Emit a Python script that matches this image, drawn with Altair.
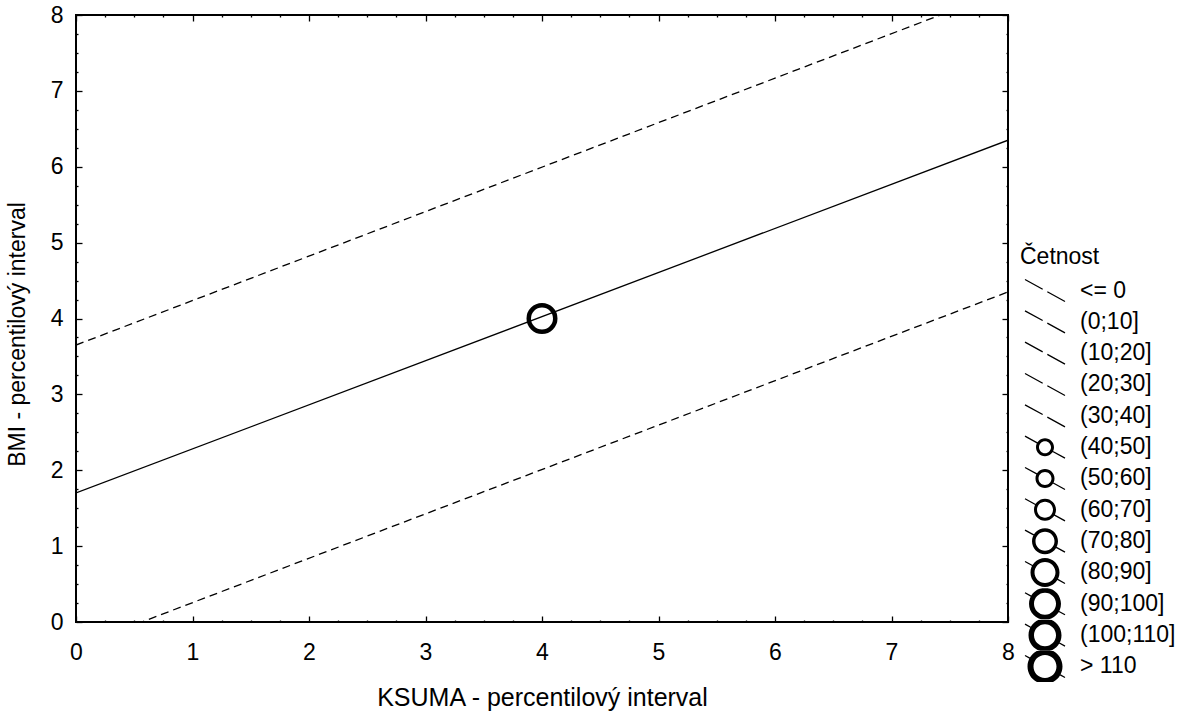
import altair as alt
import pandas as pd

FONT = "Liberation Sans"

# ---- data ----
categories = ["<= 0", "(0;10]", "(10;20]", "(20;30]", "(30;40]", "(40;50]",
              "(50;60]", "(60;70]", "(70;80]", "(80;90]", "(90;100]",
              "(100;110]", "> 110"]

fit_x = [0, 8]
fit_y = [1.70, 6.35]
upper_y = [3.65, 8.34]
lower_y = [-0.33, 4.35]

point_x = [4]
point_y = [4]
point_cat = ["(90;100]"]

major_ticks = [0, 1, 2, 3, 4, 5, 6, 7, 8]

# legend symbol style: ring outer diameter / ring thickness in px (0 = no ring)
ring_outer = [0, 0, 0, 0, 0, 18, 19, 22, 26, 29, 32, 33, 35]
ring_width = [0, 0, 0, 0, 0, 3, 3, 3, 3.5, 4, 5, 5.5, 6]

# ---- symbol paths (style only) ----
U = 12.0  # px per path unit (symbolSize 576 -> 24px box)
LX, LY = 1.667, 0.917
LL = (LX ** 2 + LY ** 2) ** 0.5
ux, uy = LX / LL, LY / LL
H = 0.65 / U          # half line thickness in units
nx, ny = -uy * H, ux * H


def f(v):
    return f"{v:.3f}"


def seg(t0, t1):
    ax, ay = ux * t0, uy * t0
    bx, by = ux * t1, uy * t1
    return (f"M{f(ax+nx)},{f(ay+ny)}L{f(bx+nx)},{f(by+ny)}"
            f"L{f(bx-nx)},{f(by-ny)}L{f(ax-nx)},{f(ay-ny)}Z")


def symbol_path(outer_d, w):
    if outer_d == 0:
        g = 0.22
        return seg(-LL, -g) + seg(g, LL)
    R = outer_d / 2 / U
    r = (outer_d / 2 - w) / U
    p = seg(-LL, -R + 0.05) + seg(R - 0.05, LL)
    p += (f"M{f(R)},0A{f(R)},{f(R)} 0 1 0 {f(-R)},0A{f(R)},{f(R)} 0 1 0 {f(R)},0Z"
          f"M{f(r)},0A{f(r)},{f(r)} 0 1 1 {f(-r)},0A{f(r)},{f(r)} 0 1 1 {f(r)},0Z")
    return p


paths = [symbol_path(d, w) for d, w in zip(ring_outer, ring_width)]

# ---- tables ----
fit_df = pd.DataFrame({"x": fit_x, "y": fit_y})
band_df = pd.DataFrame({
    "x": fit_x + fit_x,
    "y": upper_y + lower_y,
    "band": ["upper"] * len(fit_x) + ["lower"] * len(fit_x),
})
pt_df = pd.DataFrame({"x": point_x, "y": point_y, "cat": point_cat})

minor_ticks = [m + q / 4 for m in major_ticks[:-1] for q in range(4)] + [major_ticks[-1]]

TICK = alt.ExprRef("datum.value % 1 === 0 ? -6 : -2")
LABEL_EXPR = "datum.value % 1 === 0 ? '' + datum.value : ''"
xscale = alt.Scale(domain=[0, 8], nice=False, zero=False)
yscale = alt.Scale(domain=[0, 8], nice=False, zero=False)

x_bottom = alt.Axis(orient="bottom", values=minor_ticks, tickSize=TICK, tickColor="black",
                    tickWidth=1.3, domain=False, grid=False, labelExpr=LABEL_EXPR,
                    labelFlush=False, labelOverlap=False, labelFont=FONT, labelFontSize=23,
                    labelColor="black", labelPadding=25.4,
                    title="KSUMA - percentilový interval", titleFont=FONT, titleFontSize=25,
                    titleFontWeight="normal", titleColor="black", titleY=63.5)
y_left = alt.Axis(orient="left", values=minor_ticks, tickSize=TICK, tickColor="black",
                  tickWidth=1.3, domain=False, grid=False, labelExpr=LABEL_EXPR,
                  labelFlush=False, labelOverlap=False, labelFont=FONT, labelFontSize=23,
                  labelColor="black", labelPadding=19,
                  title="BMI - percentilový interval", titleFont=FONT, titleFontSize=23,
                  titleFontWeight="normal", titleColor="black", titleX=-47, titleY=319)
x_top = alt.Axis(orient="top", values=minor_ticks, tickSize=TICK, tickColor="black",
                 tickWidth=1.3, domain=False, grid=False, labels=False, title="")
y_right = alt.Axis(orient="right", values=minor_ticks, tickSize=TICK, tickColor="black",
                   tickWidth=1.3, domain=False, grid=False, labels=False, title="")

solid = alt.Chart(fit_df).mark_line(color="black", strokeWidth=1.3, clip=True).encode(
    x=alt.X("x:Q", scale=xscale, axis=x_bottom),
    y=alt.Y("y:Q", scale=yscale, axis=y_left),
)

dashed = alt.Chart(band_df).mark_line(color="black", strokeWidth=1.3, strokeDash=[8, 5],
                                      clip=True).encode(
    x=alt.X("x:Q", scale=xscale, axis=x_top),
    y=alt.Y("y:Q", scale=yscale, axis=y_right),
    detail="band:N",
)

point = alt.Chart(pt_df).mark_point(shape="circle", filled=False, color="black",
                                    strokeWidth=4.5, size=702, opacity=1).encode(
    x=alt.X("x:Q", scale=xscale, axis=None),
    y=alt.Y("y:Q", scale=yscale, axis=None),
)

legend = alt.Legend(title="Četnost", orient="none", legendX=944, legendY=231,
                    direction="vertical", titleFont=FONT, titleFontSize=23,
                    titleFontWeight="normal", titleColor="black", titlePadding=6,
                    labelFont=FONT, labelFontSize=23, labelColor="black", labelOffset=23,
                    symbolOffset=13, symbolSize=576, symbolFillColor="black",
                    symbolStrokeColor="black", symbolStrokeWidth=0, symbolOpacity=1,
                    clipHeight=31, rowPadding=0.33, padding=0, labelLimit=300)

carrier = alt.Chart(pt_df).transform_filter("false").mark_point(
    filled=True, color="black", strokeWidth=0, size=576, opacity=1
).encode(
    x=alt.X("x:Q", scale=xscale, axis=None),
    y=alt.Y("y:Q", scale=yscale, axis=None),
    shape=alt.Shape("cat:N", scale=alt.Scale(domain=categories, range=paths), legend=legend),
)

chart = alt.layer(solid, dashed, point, carrier).resolve_axis(
    x="independent", y="independent"
).properties(
    width=932, height=607, autosize="none",
    padding={"left": 76, "top": 15, "right": 179, "bottom": 92},
    background="white",
).configure_view(stroke="black", strokeWidth=2)

chart.save("out.html", embed_options={"renderer": "svg", "actions": False})
